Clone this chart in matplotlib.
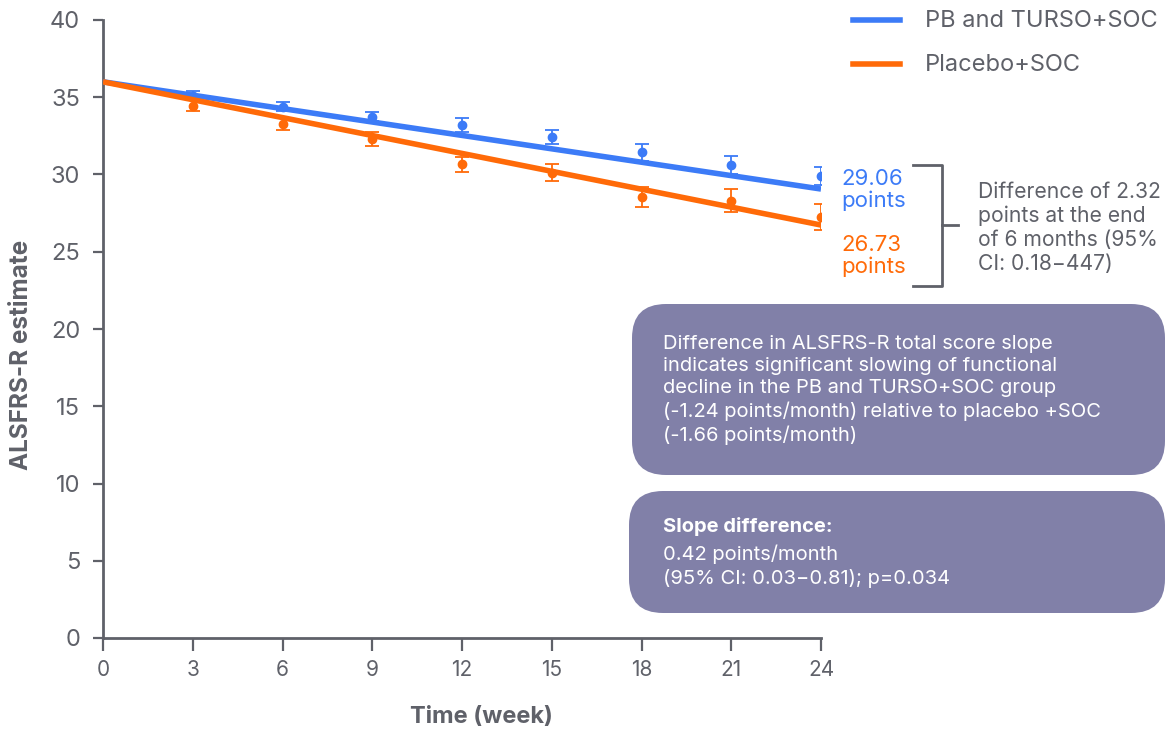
import matplotlib
matplotlib.use("Agg")
import matplotlib.pyplot as plt
from matplotlib.patches import FancyBboxPatch
from matplotlib.lines import Line2D

# ---- data ----
weeks = [3, 6, 9, 12, 15, 18, 21, 24]
pb_mean = [35.1, 34.4, 33.75, 33.2, 32.45, 31.45, 30.6, 29.9]
pb_err = [0.3, 0.3, 0.3, 0.48, 0.45, 0.55, 0.6, 0.6]
pl_mean = [34.45, 33.25, 32.3, 30.65, 30.1, 28.55, 28.3, 27.25]
pl_err = [0.35, 0.4, 0.45, 0.5, 0.55, 0.65, 0.75, 0.85]
fit_weeks = [0, 24]
pb_fit = [36.0, 29.06]
pl_fit = [36.0, 26.73]
xticks = [0, 3, 6, 9, 12, 15, 18, 21, 24]
yticks = [0, 5, 10, 15, 20, 25, 30, 35, 40]
series_names = ["PB and TURSO+SOC", "Placebo+SOC"]

BLUE = "#3c7bf7"
ORANGE = "#ff6a08"
GRAY = "#5f6169"
BOX = "#8180a8"
FONT = ["Inter", "DejaVu Sans"]
COND = ["Liberation Sans Narrow", "Inter", "DejaVu Sans"]

W, H = 1175, 731
fig = plt.figure(figsize=(W / 100, H / 100), dpi=100)
plt.rcParams["font.family"] = FONT


def px(x, y):
    return x / W, 1 - y / H


ax = fig.add_axes([103 / W, 1 - 638 / H, (821 - 103) / W, (638 - 20) / H])
ax.set_xlim(0, 24)
ax.set_ylim(0, 40)

ax.errorbar(weeks, pb_mean, yerr=pb_err, fmt="o", color=BLUE, ms=6,
            capsize=5, elinewidth=1.3, capthick=1.3, zorder=3)
ax.errorbar(weeks, pl_mean, yerr=pl_err, fmt="o", color=ORANGE, ms=6,
            capsize=5, elinewidth=1.3, capthick=1.3, zorder=3)
ax.plot(fit_weeks, pb_fit, color=BLUE, lw=4, solid_capstyle="butt", zorder=4)
ax.plot(fit_weeks, pl_fit, color=ORANGE, lw=4, solid_capstyle="butt", zorder=4)

for s in ["top", "right"]:
    ax.spines[s].set_visible(False)
for s in ["left", "bottom"]:
    ax.spines[s].set_color(GRAY)
    ax.spines[s].set_linewidth(2)
ax.set_xticks(xticks)
ax.set_yticks(yticks)
ax.tick_params(axis="both", colors=GRAY, width=1.6)
ax.tick_params(axis="y", length=7.5, pad=9, labelsize=17)
ax.tick_params(axis="x", length=9.5, pad=6, labelsize=15)
for lab in ax.get_xticklabels():
    lab.set_family(COND)
for lab in ax.get_yticklabels():
    lab.set_family(FONT)

fig.text(*px(481, 717), "Time (week)", ha="center", va="center",
         fontsize=17, fontweight="bold", color=GRAY, family=COND)
fig.text(*px(22, 355), "ALSFRS-R estimate", ha="center", va="center",
         rotation=90, fontsize=17.5, fontweight="bold", color=GRAY, family=FONT)

# legend
for (y, c, name) in [(20, BLUE, series_names[0]), (64, ORANGE, series_names[1])]:
    fig.add_artist(Line2D([853 / W, 900 / W], [1 - y / H, 1 - y / H], color=c, lw=4))
    fig.text(*px(925, y + 1), name, ha="left", va="center", fontsize=17, color=GRAY)

# end value labels
fig.text(*px(841, 190), "29.06\npoints", ha="left", va="center", fontsize=16,
         color=BLUE, linespacing=1.1)
fig.text(*px(841, 256), "26.73\npoints", ha="left", va="center", fontsize=16,
         color=ORANGE, linespacing=1.1)

# bracket
bx = [913, 942, 942, 913]
by = [165, 165, 286, 286]
fig.add_artist(Line2D([v / W for v in bx], [1 - v / H for v in by], color=GRAY, lw=2))
fig.add_artist(Line2D([942 / W, 958 / W], [1 - 225 / H, 1 - 225 / H], color=GRAY, lw=2))
fig.text(*px(978, 228), "Difference of 2.32\npoints at the end\nof 6 months (95%\nCI: 0.18\u2212447)",
         ha="left", va="center", fontsize=15.2, color=GRAY, linespacing=1.25)

# boxes
def rbox(x0, y0, x1, y1, r):
    p = FancyBboxPatch((x0 / W, 1 - y1 / H), (x1 - x0) / W, (y1 - y0) / H,
                       boxstyle=f"round,pad=0,rounding_size={r / W}",
                       transform=fig.transFigure, facecolor=BOX, edgecolor="none",
                       mutation_aspect=W / H)
    fig.add_artist(p)


rbox(632, 304, 1165, 475, 34)
rbox(629, 491, 1165, 613, 34)

fig.text(*px(663, 390), "Difference in ALSFRS-R total score slope\n"
         "indicates significant slowing of functional\n"
         "decline in the PB and TURSO+SOC group\n"
         "(-1.24 points/month) relative to placebo +SOC\n"
         "(-1.66 points/month)",
         ha="left", va="center", fontsize=14.5, color="white", linespacing=1.3)
fig.text(*px(663, 527), "Slope difference:", ha="left", va="center",
         fontsize=14.5, color="white", fontweight="bold")
fig.text(*px(663, 566), "0.42 points/month\n(95% CI: 0.03\u22120.81); p=0.034",
         ha="left", va="center", fontsize=14.5, color="white", linespacing=1.3)

fig.savefig("out.png", dpi=100)
